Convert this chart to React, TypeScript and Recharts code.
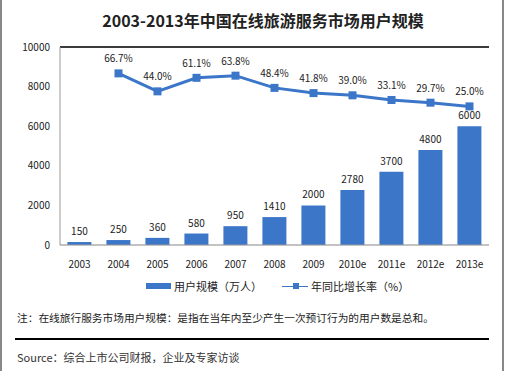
import {
  Bar,
  CartesianGrid,
  ComposedChart,
  LabelList,
  Line,
  ReferenceLine,
  XAxis,
  YAxis,
} from "recharts";

const years = ["2003", "2004", "2005", "2006", "2007", "2008", "2009", "2010e", "2011e", "2012e", "2013e"];
const users = [150, 250, 360, 580, 950, 1410, 2000, 2780, 3700, 4800, 6000];
const growth = [null, 66.7, 44.0, 61.1, 63.8, 48.4, 41.8, 39.0, 33.1, 29.7, 25.0];
const userTicks = [0, 2000, 4000, 6000, 8000, 10000];

const BLUE = "#3b76c8";
const TEXT = "#222";
const FONT = "'Noto Sans CJK SC', 'Noto Sans', sans-serif";

const rows = years.map((y, i) => ({ year: y, users: users[i], growth: growth[i] }));

function Square(props: any) {
  const { cx, cy } = props;
  if (cx == null || cy == null || props.value == null) return null;
  return <rect x={cx - 4} y={cy - 4} width={8} height={8} fill={BLUE} />;
}

export default function App() {
  return (
    <div
      style={{
        position: "fixed",
        left: 0,
        top: 0,
        width: 505,
        height: 371,
        background: "#fff",
        fontFamily: FONT,
        color: TEXT,
      }}
    >
      <div style={{ position: "absolute", left: 0, top: 0, width: 2, height: 371, background: "#888" }} />
      <div style={{ position: "absolute", left: 502, top: 0, width: 2, height: 371, background: "#888" }} />
      <div
        style={{
          position: "absolute",
          left: 60,
          top: 9,
          width: 406,
          textAlign: "center",
          fontSize: 16,
          fontWeight: 700,
          lineHeight: "22px",
        }}
      >
        2003-2013年中国在线旅游服务市场用户规模
      </div>
      <div style={{ position: "absolute", left: 0, top: 0 }}>
        <ComposedChart
          width={505}
          height={272}
          data={rows}
          margin={{ top: 47, right: 16, left: 10, bottom: 0 }}
          barCategoryGap="19%"
        >
          <CartesianGrid stroke="#d9d9d9" vertical={false} />
          <XAxis
            dataKey="year"
            axisLine={{ stroke: "#999" }}
            tickLine={false}
            height={27}
            tickMargin={10}
            tick={{ fontSize: 10, fill: TEXT, fontFamily: FONT }}
            interval={0}
          />
          <YAxis
            yAxisId="left"
            domain={[0, 10000]}
            ticks={userTicks}
            width={50}
            axisLine={{ stroke: "#999" }}
            tickLine={false}
            tickMargin={4}
            tick={{ fontSize: 10, fill: TEXT, fontFamily: FONT }}
          />
          <YAxis
            yAxisId="right"
            orientation="right"
            domain={[-150, 100]}
            width={0}
            tick={false}
            tickLine={false}
            axisLine={{ stroke: "#999" }}
          />
          <ReferenceLine yAxisId="left" y={10000} stroke="#000" strokeWidth={1.5} />
          <Bar yAxisId="left" dataKey="users" fill={BLUE} isAnimationActive={false}>
            <LabelList
              dataKey="users"
              position="top"
              offset={7}
              style={{ fontSize: 10, fill: TEXT, fontFamily: FONT }}
            />
          </Bar>
          <Line
            yAxisId="right"
            dataKey="growth"
            stroke={BLUE}
            strokeWidth={3}
            dot={<Square />}
            activeDot={false}
            isAnimationActive={false}
            connectNulls={false}
          >
            <LabelList
              dataKey="growth"
              position="top"
              offset={11}
              formatter={(v: any) => (v == null ? "" : `${Number(v).toFixed(1)}%`)}
              style={{ fontSize: 10, fill: TEXT, fontFamily: FONT }}
            />
          </Line>
        </ComposedChart>
      </div>
      <div style={{ position: "absolute", left: 146, top: 277, fontSize: 11, display: "flex", alignItems: "center", height: 18 }}>
        <span style={{ display: "inline-block", width: 25, height: 6, background: BLUE, marginRight: 3 }} />
        <span>用户规模（万人）</span>
        <span style={{ position: "relative", display: "inline-block", width: 26, height: 8, marginLeft: 20, marginRight: 3 }}>
          <span style={{ position: "absolute", left: 0, top: 3.5, width: 26, height: 1, background: BLUE }} />
          <span style={{ position: "absolute", left: 11, top: 1, width: 6, height: 6, background: BLUE }} />
        </span>
        <span>年同比增长率（%）</span>
      </div>
      <div style={{ position: "absolute", left: 17, top: 310, fontSize: 10.7, lineHeight: "16px" }}>
        注：在线旅行服务市场用户规模：是指在当年内至少产生一次预订行为的用户数是总和。
      </div>
      <div style={{ position: "absolute", left: 15, top: 338, width: 474, height: 1.5, background: "#000" }} />
      <div style={{ position: "absolute", left: 17, top: 349, fontSize: 11, lineHeight: "16px", color: "#333" }}>
        Source：综合上市公司财报，企业及专家访谈
      </div>
    </div>
  );
}
